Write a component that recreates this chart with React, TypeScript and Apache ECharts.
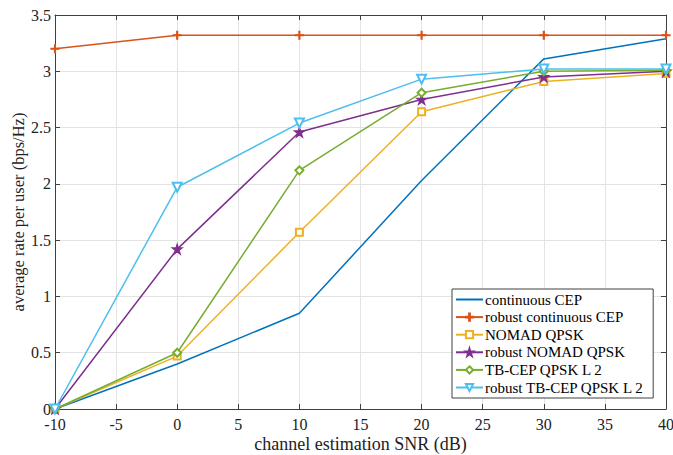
import React, { useEffect, useRef } from "react";
import * as echarts from "echarts";

const snr = [-10, 0, 10, 20, 30, 40];
const continuousCEP = [0, 0.4, 0.85, 2.03, 3.11, 3.29];
const robustContinuousCEP = [3.2, 3.32, 3.32, 3.32, 3.32, 3.32];
const nomadQPSK = [0, 0.47, 1.57, 2.64, 2.91, 2.98];
const robustNomadQPSK = [0, 1.42, 2.46, 2.75, 2.95, 3.0];
const tbCepQPSK = [0, 0.5, 2.12, 2.81, 3.0, 3.01];
const robustTbCepQPSK = [0, 1.97, 2.54, 2.93, 3.02, 3.02];

const seriesNames = [
  "continuous CEP",
  "robust continuous CEP",
  "NOMAD QPSK",
  "robust NOMAD QPSK",
  "TB-CEP QPSK L 2",
  "robust TB-CEP QPSK L 2",
];
const colors = ["#0072BD", "#D95319", "#EDB120", "#7E2F8E", "#77AC30", "#4DBEEE"];

const FONT = '"Liberation Serif", "Times New Roman", Times, "DejaVu Serif", serif';
const AXIS_COLOR = "#404040";

const plusPath = "path://M4.4,0H5.6V4.4H10V5.6H5.6V10H4.4V5.6H0V4.4H4.4Z";
const starPath =
  "path://M50,0L61.8,36.2L100,36.2L69.1,58.8L80.9,95.1L50,72.7L19.1,95.1L30.9,58.8L0,36.2L38.2,36.2Z";

export default function App() {
  const ref = useRef<HTMLDivElement>(null);
  useEffect(() => {
    if (!ref.current) return;
    const chart = echarts.init(ref.current, null, { renderer: "svg" });
    const datasets = [
      continuousCEP,
      robustContinuousCEP,
      nomadQPSK,
      robustNomadQPSK,
      tbCepQPSK,
      robustTbCepQPSK,
    ];
    const symbols: any[] = ["circle", plusPath, "emptyRect", starPath, "emptyDiamond", "emptyTriangle"];
    const sizes = [0, 8, 7, 10, 8, 9];
    const rotates = [0, 0, 0, 0, 0, 180];
    const series = datasets.map((d, i) => ({
      name: seriesNames[i],
      type: "line",
      xAxisIndex: 0,
      yAxisIndex: 0,
      data: snr.map((x, j) => [x, d[j]]),
      showSymbol: i !== 0,
      symbol: symbols[i],
      symbolSize: sizes[i],
      symbolRotate: rotates[i],
      lineStyle: { color: colors[i], width: 1.5 },
      itemStyle: { color: colors[i], borderColor: colors[i], borderWidth: 1.2 },
      z: 2 + i,
    }));
    const axisCommon = {
      axisLine: { show: true, onZero: false, lineStyle: { color: AXIS_COLOR, width: 1 } },
      axisTick: { show: true, inside: true, length: 5, lineStyle: { color: AXIS_COLOR } },
    };
    const legendData: any[] = seriesNames.map((n, i) =>
      i === 0 ? { name: n, itemStyle: { color: "rgba(0,0,0,0)", borderWidth: 0, opacity: 0 } } : { name: n }
    );
    const tickLabel = {
      fontFamily: FONT,
      fontSize: 16,
      color: "#222",
      fontWeight: "normal",
    };
    chart.setOption({
      animation: false,
      backgroundColor: "#ffffff",
      color: colors,
      textStyle: { fontFamily: FONT },
      grid: { left: 55, right: 7, top: 15, bottom: 46, containLabel: false, outerBoundsMode: "none" },
      legend: {
        orient: "vertical",
        left: 452,
        top: 289,
        backgroundColor: "#ffffff",
        borderColor: "#404040",
        borderWidth: 1,
        borderRadius: 0,
        padding: [3, 9, 3, 3],
        itemGap: 2.6,
        itemWidth: 27,
        itemHeight: 9,
        textStyle: { fontFamily: FONT, fontSize: 15, color: "#000", padding: [0, 0, 0, -3] },
        data: legendData,
      },
      xAxis: [
        {
          type: "value",
          min: -10,
          max: 40,
          interval: 5,
          ...axisCommon,
          splitLine: { show: true, lineStyle: { color: "#e3e3e3", width: 1 } },
          axisLabel: { ...tickLabel, margin: 7 },
          name: "channel estimation SNR (dB)",
          nameLocation: "middle",
          nameGap: 26,
          nameMoveOverlap: false,
          nameTextStyle: { fontFamily: FONT, fontSize: 18, color: "#222" },
        },
        {
          type: "value",
          position: "top",
          min: -10,
          max: 40,
          interval: 5,
          ...axisCommon,
          splitLine: { show: false },
          axisLabel: { show: false },
        },
      ],
      yAxis: [
        {
          type: "value",
          min: 0,
          max: 3.5,
          interval: 0.5,
          ...axisCommon,
          splitLine: { show: true, lineStyle: { color: "#e3e3e3", width: 1 } },
          axisLabel: { ...tickLabel, margin: 4 },
          name: "average rate per user (bps/Hz)",
          nameLocation: "middle",
          nameGap: 28.5,
          nameMoveOverlap: false,
          nameTextStyle: { fontFamily: FONT, fontSize: 16.5, color: "#222" },
        },
        {
          type: "value",
          position: "right",
          min: 0,
          max: 3.5,
          interval: 0.5,
          ...axisCommon,
          splitLine: { show: false },
          axisLabel: { show: false },
        },
      ],
      series,
    });
    return () => chart.dispose();
  }, []);
  return <div ref={ref} style={{ width: 673, height: 455, position: "absolute", left: 0, top: 0 }} />;
}
